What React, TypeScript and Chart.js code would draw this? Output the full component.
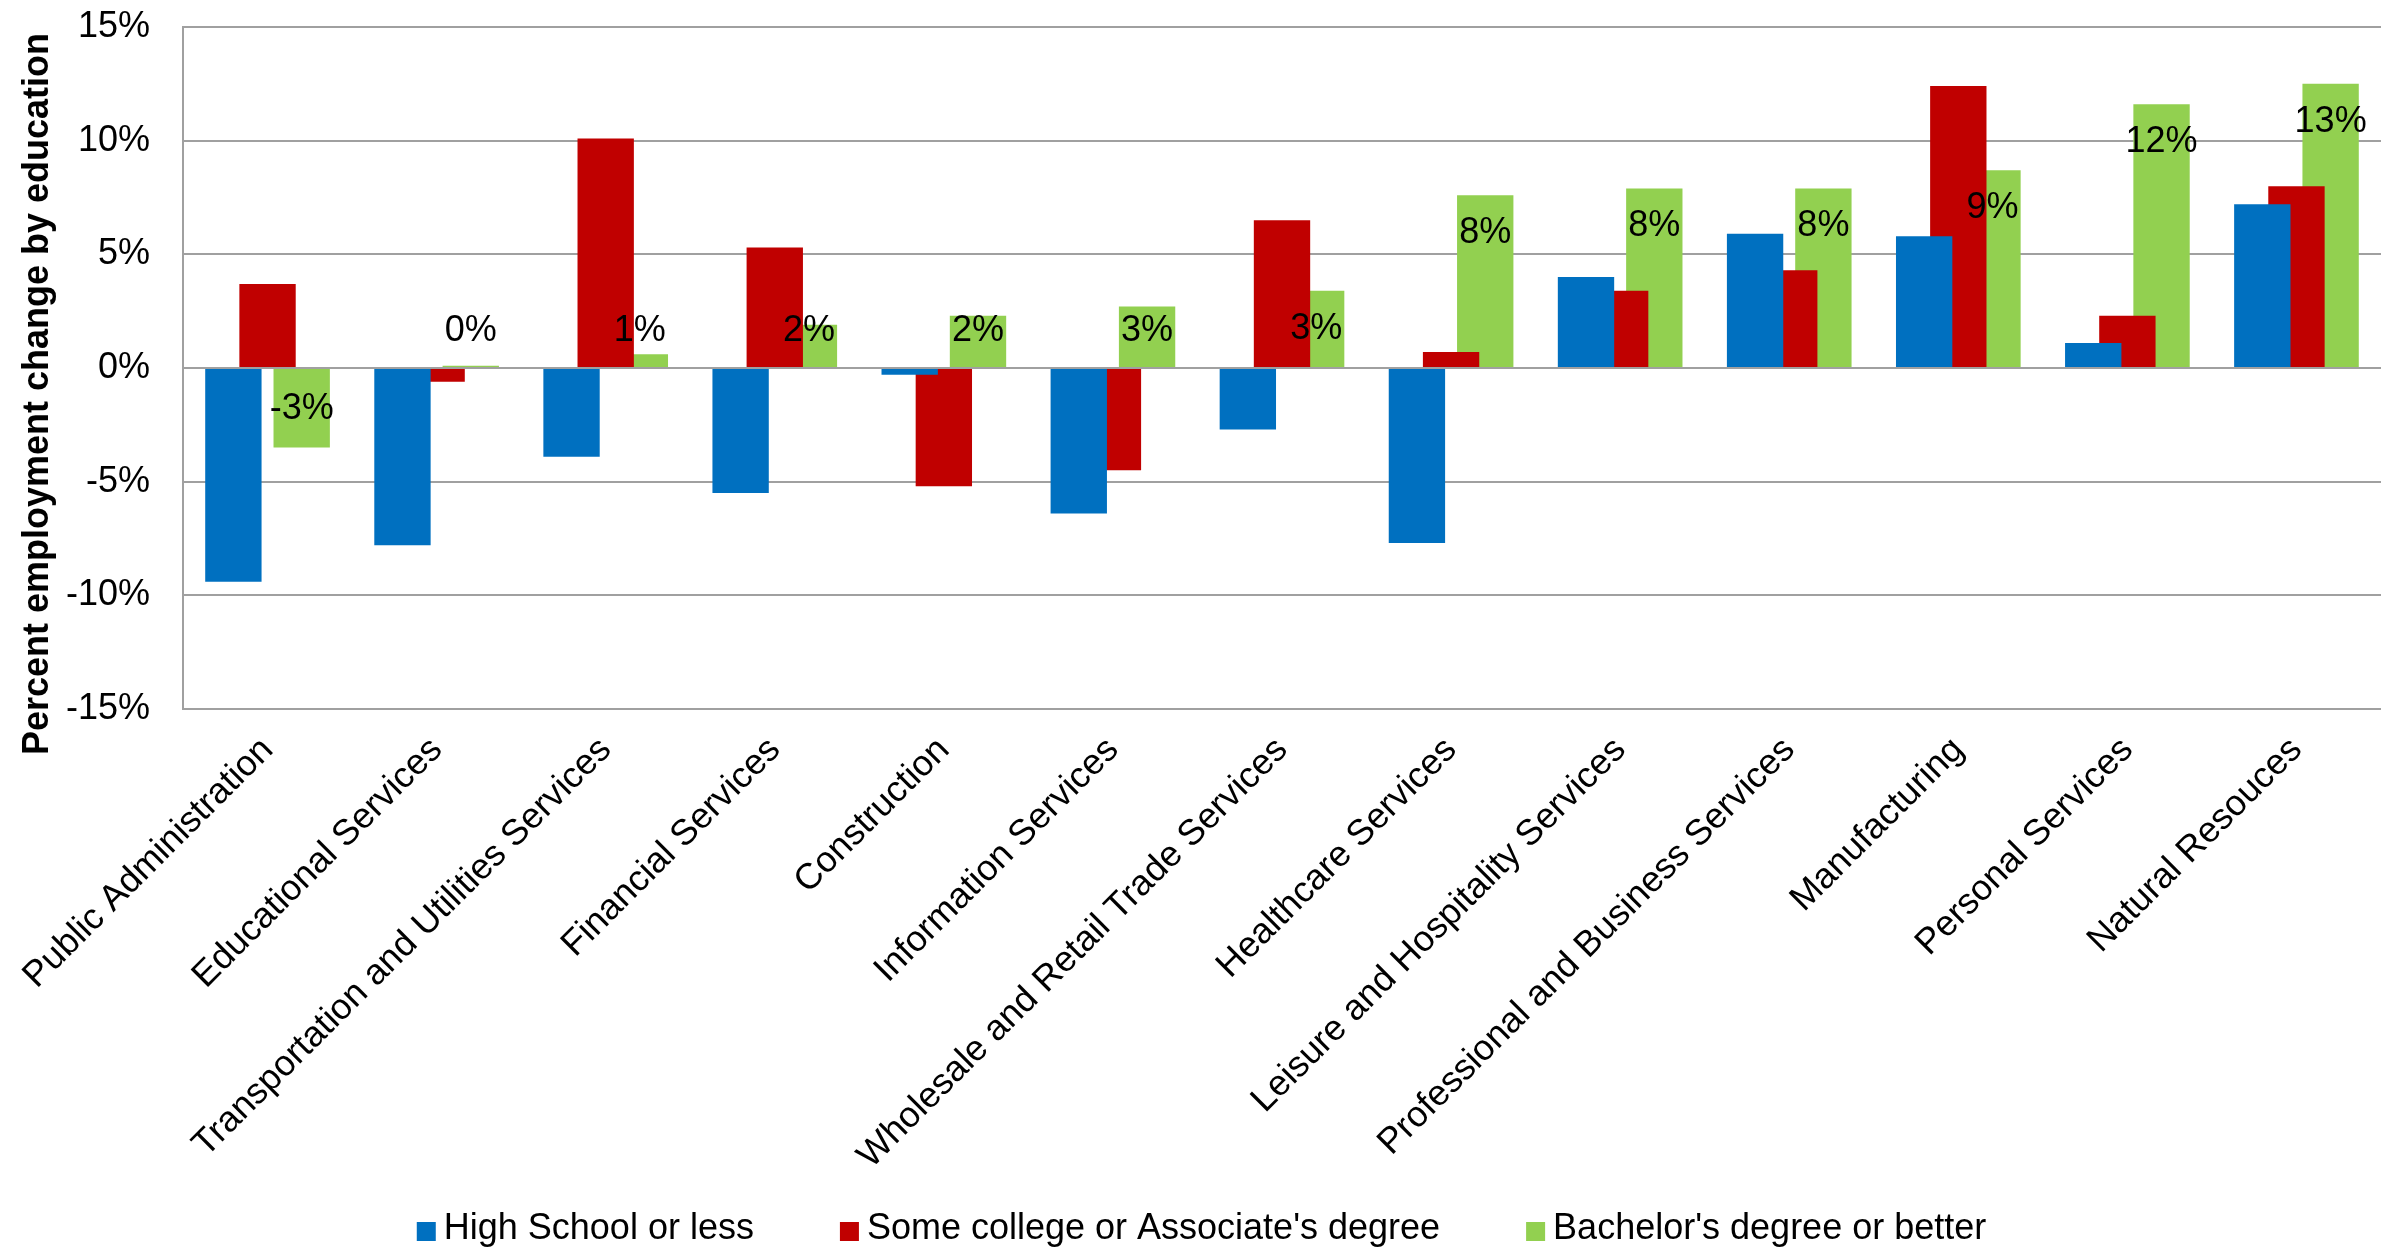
import React, { useEffect, useRef } from 'react';
import { Chart, registerables } from 'chart.js';

Chart.register(...registerables);

const categories = [
  'Public Administration',
  'Educational Services',
  'Transportation and Utilities Services',
  'Financial Services',
  'Construction',
  'Information Services',
  'Wholesale and Retail Trade Services',
  'Healthcare Services',
  'Leisure and Hospitality Services',
  'Professional and Business Services',
  'Manufacturing',
  'Personal Services',
  'Natural Resouces',
];

const seriesNames = [
  'High School or less',
  "Some college or Associate's degree",
  "Bachelor's degree or better",
];

const highSchool = [-9.4, -7.8, -3.9, -5.5, -0.3, -6.4, -2.7, -7.7, 4.0, 5.9, 5.8, 1.1, 7.2];
const someCollege = [3.7, -0.6, 10.1, 5.3, -5.2, -4.5, 6.5, 0.7, 3.4, 4.3, 12.4, 2.3, 8.0];
const bachelors = [-3.5, 0.1, 0.6, 1.9, 2.3, 2.7, 3.4, 7.6, 7.9, 7.9, 8.7, 11.6, 12.5];

const yTitle = 'Percent employment change by education';
const yMin = -15;
const yMax = 15;
const yStep = 5;

const W = 2389;
const H = 1251;
const FONT = "'Liberation Sans', Arial, Helvetica, sans-serif";
const GRID = '#a0a0a0';
const COLORS = ['#0070C0', '#C00000', '#92D050'];

export default function App() {
  const ref = useRef<HTMLCanvasElement>(null);

  useEffect(() => {
    const canvas = ref.current;
    if (!canvas) return;
    Chart.defaults.font.family = FONT;

    const titlePlugin = {
      id: 'yTitleCustom',
      afterDraw(chart: any) {
        const { ctx, chartArea } = chart;
        ctx.save();
        ctx.translate(48, (chartArea.top + chartArea.bottom) / 2 + 26);
        ctx.rotate(-Math.PI / 2);
        ctx.font = `bold 36px ${FONT}`;
        ctx.fillStyle = '#000';
        ctx.textAlign = 'center';
        ctx.textBaseline = 'alphabetic';
        ctx.fillText(yTitle, 0, 0);
        ctx.restore();
      },
    };

    const labelPlugin = {
      id: 'greenLabels',
      afterDatasetsDraw(chart: any) {
        const { ctx } = chart;
        const meta = chart.getDatasetMeta(2);
        const zeroY = chart.scales.y.getPixelForValue(0);
        ctx.save();
        ctx.font = `36px ${FONT}`;
        ctx.fillStyle = '#000';
        ctx.textAlign = 'center';
        ctx.textBaseline = 'middle';
        meta.data.forEach((el: any, i: number) => {
          const v = bachelors[i];
          const y = v >= 0 ? Math.min(el.y + 38, zeroY - 37) : el.y - 38;
          ctx.fillText(`${Math.round(v)}%`, el.x, y);
        });
        ctx.restore();
      },
    };

    const legendPlugin = {
      id: 'customLegend',
      afterDraw(chart: any) {
        const { ctx } = chart;
        ctx.save();
        ctx.font = `36px ${FONT}`;
        ctx.textAlign = 'left';
        ctx.textBaseline = 'alphabetic';
        const box = 19;
        const gapBoxText = 8;
        const gapItems = 86;
        const items = chart.data.datasets.map((ds: any) => ({
          text: ds.label,
          color: ds.backgroundColor,
          w: ctx.measureText(ds.label).width,
        }));
        const total =
          items.reduce((s: number, it: any) => s + box + gapBoxText + it.w, 0) +
          gapItems * (items.length - 1);
        let x = chart.width / 2 + 7 - total / 2;
        const baseline = chart.height - 12;
        items.forEach((it: any) => {
          ctx.fillStyle = it.color;
          ctx.fillRect(x, baseline - 17, box, box);
          ctx.fillStyle = '#000';
          ctx.fillText(it.text, x + box + gapBoxText, baseline);
          x += box + gapBoxText + it.w + gapItems;
        });
        ctx.restore();
      },
    };

    const chart = new Chart(canvas, {
      type: 'bar',
      data: {
        labels: categories,
        datasets: [
          { label: seriesNames[0], data: highSchool, backgroundColor: COLORS[0] },
          { label: seriesNames[1], data: someCollege, backgroundColor: COLORS[1] },
          { label: seriesNames[2], data: bachelors, backgroundColor: COLORS[2] },
        ],
      },
      options: {
        responsive: false,
        animation: false,
        devicePixelRatio: 1,
        layout: { padding: { left: 0, right: 8, top: 27, bottom: 0 } },
        datasets: { bar: { categoryPercentage: 0.606, barPercentage: 1.65 } },
        plugins: {
          legend: { display: false },
          tooltip: { enabled: false },
          title: { display: false },
        },
        scales: {
          x: {
            grid: { display: false, drawTicks: false },
            border: { display: false },
            ticks: {
              autoSkip: false,
              minRotation: 45,
              maxRotation: 45,
              padding: 20,
              color: '#000',
              font: { size: 36, family: FONT },
            },
            afterFit(scale: any) {
              scale.height = 542;
            },
          },
          y: {
            min: yMin,
            max: yMax,
            ticks: {
              stepSize: yStep,
              padding: 0,
              color: '#000',
              font: { size: 36, family: FONT },
              callback: (v: any) => `${v}%`,
            },
            grid: {
              color: GRID,
              lineWidth: 2,
              drawTicks: true,
              tickLength: 33,
              tickColor: 'rgba(0,0,0,0)',
            },
            border: { display: true, color: GRID, width: 2 },
            afterFit(scale: any) {
              scale.width = 183;
            },
          },
        },
      },
      plugins: [titlePlugin, labelPlugin, legendPlugin],
    } as any);

    return () => chart.destroy();
  }, []);

  return (
    <div style={{ position: 'absolute', left: 0, top: 0, width: W, height: H, background: '#fff' }}>
      <canvas ref={ref} width={W} height={H} style={{ display: 'block' }} />
    </div>
  );
}
